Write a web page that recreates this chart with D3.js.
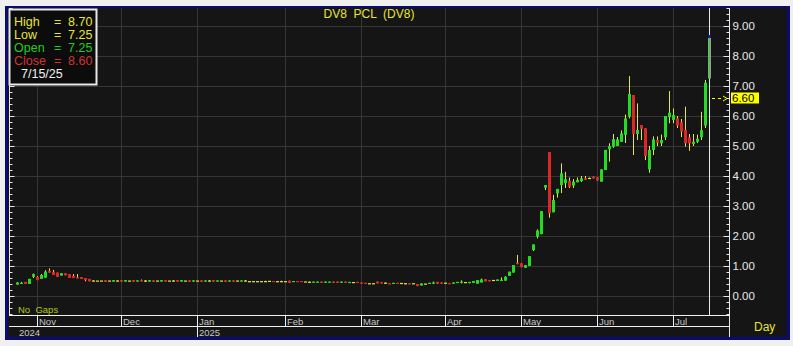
<!DOCTYPE html>
<html>
<head>
<meta charset="utf-8">
<script src="https://cdn.jsdelivr.net/npm/d3@7"></script>
<style>
  body { margin: 0; background: #f0f0f0; }
  svg { display: block; font-family: "Liberation Sans", Arial, sans-serif; }
</style>
</head>
<body>
<div id="chart"></div>
<script>
// daily bars, oldest first (late Oct 2024 .. 7/15/25)
var opens = [
  0.38, 0.43, 0.47, 0.40, 0.64, 0.64, 0.57, 0.61, 0.84, 0.81,
  0.78, 0.68, 0.76, 0.73, 0.67, 0.62, 0.63, 0.60, 0.57, 0.50,
  0.50, 0.50, 0.53, 0.50, 0.48, 0.50, 0.53, 0.48, 0.50, 0.53,
  0.48, 0.52, 0.50, 0.48, 0.52, 0.50, 0.48, 0.53, 0.50, 0.50,
  0.53, 0.48, 0.50, 0.52, 0.48, 0.50, 0.52, 0.48, 0.50, 0.53,
  0.48, 0.50, 0.52, 0.48, 0.52, 0.50, 0.48, 0.50, 0.48, 0.48,
  0.48, 0.48, 0.48, 0.49, 0.50, 0.48, 0.48, 0.48, 0.51, 0.47,
  0.50, 0.50, 0.47, 0.46, 0.45, 0.45, 0.48, 0.44, 0.45, 0.48,
  0.48, 0.44, 0.48, 0.44, 0.45, 0.47, 0.45, 0.44, 0.41, 0.41,
  0.48, 0.46, 0.43, 0.42, 0.40, 0.44, 0.42, 0.41, 0.42, 0.41,
  0.40, 0.35, 0.40, 0.40, 0.42, 0.47, 0.45, 0.43, 0.43, 0.41,
  0.43, 0.45, 0.45, 0.44, 0.44, 0.41, 0.45, 0.56, 0.53, 0.52,
  0.50, 0.52, 0.51, 0.67, 0.78, 1.11, 1.09, 0.94, 1.00, 1.53,
  1.98, 2.06, 3.61, 4.80, 2.79, 3.42, 3.70, 3.76, 3.84, 3.68,
  3.79, 3.83, 3.92, 3.92, 3.98, 3.95, 3.81, 4.20, 4.89, 4.98,
  5.00, 5.14, 5.37, 5.98, 6.70, 5.40, 5.70, 5.59, 4.22, 4.87,
  5.20, 5.09, 5.29, 5.96, 5.87, 5.92, 5.79, 5.53, 5.29, 5.07,
  5.14, 5.29, 5.68, 7.25
];
var highs = [
  0.46, 0.47, 0.47, 0.57, 0.75, 0.66, 0.73, 0.86, 0.92, 0.87,
  0.78, 0.76, 0.76, 0.73, 0.73, 0.73, 0.63, 0.60, 0.57, 0.52,
  0.50, 0.50, 0.53, 0.50, 0.53, 0.52, 0.53, 0.53, 0.50, 0.53,
  0.52, 0.55, 0.53, 0.53, 0.52, 0.50, 0.53, 0.53, 0.50, 0.53,
  0.53, 0.53, 0.50, 0.52, 0.53, 0.50, 0.52, 0.52, 0.53, 0.53,
  0.52, 0.50, 0.52, 0.52, 0.52, 0.50, 0.52, 0.53, 0.48, 0.48,
  0.48, 0.48, 0.51, 0.50, 0.50, 0.50, 0.51, 0.49, 0.51, 0.50,
  0.50, 0.50, 0.47, 0.48, 0.48, 0.48, 0.48, 0.48, 0.48, 0.48,
  0.48, 0.48, 0.48, 0.47, 0.45, 0.47, 0.45, 0.44, 0.41, 0.42,
  0.48, 0.46, 0.45, 0.42, 0.44, 0.44, 0.42, 0.43, 0.42, 0.41,
  0.40, 0.42, 0.40, 0.44, 0.48, 0.47, 0.45, 0.43, 0.43, 0.45,
  0.47, 0.52, 0.45, 0.47, 0.50, 0.53, 0.58, 0.56, 0.53, 0.52,
  0.55, 0.62, 0.66, 0.81, 1.03, 1.37, 1.09, 1.03, 1.33, 1.72,
  2.22, 2.83, 3.70, 4.80, 3.37, 3.57, 4.42, 4.14, 3.95, 3.90,
  3.95, 4.00, 4.00, 3.95, 3.98, 3.96, 4.22, 4.87, 5.09, 5.40,
  5.30, 5.52, 6.05, 7.33, 6.70, 6.42, 5.70, 5.59, 5.00, 5.32,
  5.32, 5.38, 6.00, 6.83, 6.25, 6.00, 5.90, 6.31, 5.40, 5.40,
  5.38, 6.14, 7.20, 8.70
];
var lows = [
  0.38, 0.42, 0.40, 0.40, 0.60, 0.53, 0.57, 0.61, 0.78, 0.70,
  0.64, 0.68, 0.69, 0.60, 0.60, 0.60, 0.57, 0.49, 0.49, 0.50,
  0.50, 0.50, 0.47, 0.50, 0.48, 0.50, 0.48, 0.48, 0.50, 0.48,
  0.48, 0.50, 0.47, 0.48, 0.47, 0.50, 0.48, 0.48, 0.50, 0.50,
  0.48, 0.48, 0.50, 0.47, 0.48, 0.50, 0.47, 0.48, 0.50, 0.48,
  0.48, 0.50, 0.47, 0.48, 0.48, 0.50, 0.48, 0.50, 0.48, 0.48,
  0.48, 0.48, 0.48, 0.49, 0.47, 0.48, 0.48, 0.48, 0.44, 0.47,
  0.47, 0.47, 0.47, 0.45, 0.45, 0.45, 0.44, 0.44, 0.45, 0.44,
  0.44, 0.44, 0.44, 0.44, 0.45, 0.44, 0.42, 0.41, 0.41, 0.41,
  0.42, 0.42, 0.42, 0.40, 0.40, 0.41, 0.42, 0.40, 0.40, 0.41,
  0.33, 0.35, 0.40, 0.40, 0.40, 0.41, 0.41, 0.43, 0.41, 0.41,
  0.43, 0.42, 0.45, 0.42, 0.44, 0.41, 0.45, 0.49, 0.49, 0.52,
  0.50, 0.50, 0.51, 0.67, 0.78, 1.06, 0.96, 0.94, 1.00, 1.50,
  1.92, 2.06, 3.53, 2.61, 2.79, 3.28, 3.43, 3.60, 3.60, 3.60,
  3.79, 3.80, 3.87, 3.92, 3.92, 3.85, 3.81, 4.20, 4.48, 4.94,
  5.00, 5.14, 5.10, 5.92, 4.70, 5.20, 5.20, 4.53, 4.11, 4.70,
  5.00, 5.00, 5.20, 5.76, 5.76, 5.60, 5.30, 4.98, 4.84, 5.00,
  5.10, 5.20, 5.60, 7.25
];
var closes = [
  0.45, 0.44, 0.40, 0.57, 0.73, 0.53, 0.70, 0.81, 0.78, 0.70,
  0.64, 0.76, 0.69, 0.60, 0.60, 0.60, 0.57, 0.53, 0.49, 0.50,
  0.50, 0.50, 0.47, 0.50, 0.53, 0.50, 0.48, 0.53, 0.50, 0.48,
  0.52, 0.50, 0.50, 0.53, 0.47, 0.50, 0.53, 0.48, 0.50, 0.50,
  0.48, 0.53, 0.50, 0.47, 0.52, 0.50, 0.47, 0.52, 0.50, 0.48,
  0.52, 0.50, 0.47, 0.52, 0.48, 0.50, 0.52, 0.50, 0.48, 0.48,
  0.48, 0.48, 0.48, 0.49, 0.47, 0.48, 0.48, 0.48, 0.44, 0.50,
  0.47, 0.47, 0.47, 0.46, 0.48, 0.48, 0.44, 0.48, 0.48, 0.44,
  0.44, 0.48, 0.44, 0.47, 0.45, 0.44, 0.42, 0.41, 0.41, 0.41,
  0.42, 0.42, 0.43, 0.40, 0.44, 0.41, 0.42, 0.41, 0.40, 0.41,
  0.33, 0.42, 0.40, 0.44, 0.45, 0.41, 0.41, 0.43, 0.41, 0.45,
  0.47, 0.48, 0.45, 0.47, 0.50, 0.53, 0.55, 0.49, 0.49, 0.52,
  0.55, 0.54, 0.64, 0.81, 1.03, 1.06, 0.96, 1.03, 1.33, 1.72,
  2.18, 2.83, 3.70, 2.76, 3.20, 3.57, 4.09, 3.89, 3.64, 3.81,
  3.87, 3.92, 3.87, 3.92, 3.92, 3.85, 4.22, 4.87, 5.00, 5.23,
  5.22, 5.42, 5.92, 6.73, 5.40, 5.53, 5.57, 4.67, 4.87, 5.22,
  5.11, 5.20, 6.00, 6.11, 6.03, 5.68, 5.48, 5.09, 5.09, 5.14,
  5.24, 5.53, 7.11, 8.60
];
// first bar of each month
var monthLabels = ["Nov", "Dec", "Jan", "Feb", "Mar", "Apr", "May", "Jun", "Jul"];
var monthFirstBar = [5, 26, 45, 67, 86, 107, 126, 145, 164];
var yearLabels = ["2024", "2025"];
var yearFirstBar = [null, 45];
var priceTicks = [0, 1, 2, 3, 4, 5, 6, 7, 8, 9];
var markerPrice = 6.60;

var W = 793, H = 346,
    plotL = 9, plotR = 729, plotT = 8, plotB = 315;

var svg = d3.select("#chart").append("svg")
    .attr("width", W)
    .attr("height", H);

var bars = opens.map(function(o, i) {
    return { i: i, o: o, h: highs[i], l: lows[i], c: closes[i] };
});

var x = d3.scaleLinear().domain([0, bars.length - 1]).range([17, 709]);
var y = d3.scaleLinear().domain([0, 9]).range([296, 26]);

// frame
svg.append("rect").attr("x", 5).attr("y", 6).attr("width", 785).attr("height", 334).attr("fill", "#0b0b70");
svg.append("rect").attr("x", 8).attr("y", 8).attr("width", 779).attr("height", 329).attr("fill", "#151515");

// grid
svg.append("g").selectAll("line")
    .data(priceTicks)
    .enter().append("line")
    .attr("x1", plotL).attr("x2", plotR)
    .attr("y1", function(d) { return y(d) + 0.5; })
    .attr("y2", function(d) { return y(d) + 0.5; })
    .attr("stroke", "#363636");
svg.append("g").selectAll("line")
    .data(monthFirstBar)
    .enter().append("line")
    .attr("x1", function(d) { return Math.round(x(d)) + 0.5; })
    .attr("x2", function(d) { return Math.round(x(d)) + 0.5; })
    .attr("y1", plotT).attr("y2", plotB)
    .attr("stroke", "#363636");

// cursor line on last bar
var last = bars[bars.length - 1];
svg.append("line")
    .attr("x1", Math.round(x(last.i)) + 0.5).attr("x2", Math.round(x(last.i)) + 0.5)
    .attr("y1", plotT).attr("y2", plotB)
    .attr("stroke", "#e8e8e8");

// candles
var up = "#22dd22", down = "#dd2626", wick = "#e6e636";
var candle = svg.append("g").selectAll("g")
    .data(bars.slice(0, -1))
    .enter().append("g");
candle.append("line")
    .attr("x1", function(d) { return Math.round(x(d.i)) + 0.5; })
    .attr("x2", function(d) { return Math.round(x(d.i)) + 0.5; })
    .attr("y1", function(d) { return y(d.h); })
    .attr("y2", function(d) { return y(d.l); })
    .attr("stroke", wick);
candle.append("rect")
    .attr("x", function(d) { return Math.round(x(d.i)) - 1; })
    .attr("width", 3)
    .attr("y", function(d) { return d.o == d.c ? y(d.c) - 0.5 : y(Math.max(d.o, d.c)); })
    .attr("height", function(d) { return d.o == d.c ? 1.2 : Math.max(1.2, Math.abs(y(d.o) - y(d.c))); })
    .attr("fill", function(d) { return d.c > d.o ? up : (d.c < d.o ? down : wick); });

// selected bar
var lx = Math.round(x(last.i));
svg.append("rect").attr("x", lx - 1).attr("width", 3)
    .attr("y", y(last.h)).attr("height", y(last.c) - y(last.h))
    .attr("fill", "#1a1a90");
svg.append("rect").attr("x", lx - 1).attr("width", 3)
    .attr("y", y(last.c)).attr("height", y(last.o) - y(last.c))
    .attr("fill", "#9a9a9a");
svg.append("rect").attr("x", lx).attr("width", 1)
    .attr("y", y(last.c)).attr("height", y(last.o) - y(last.c))
    .attr("fill", up);

// right price axis
var minor = d3.range(-0.6, 9.61, 0.2).map(function(d) { return +d.toFixed(1); });
svg.append("g")
    .attr("class", "axis")
    .attr("transform", "translate(" + (plotR + 0.5) + ",0)")
    .call(d3.axisLeft(y).tickValues(minor).tickSize(3).tickFormat(""));
svg.append("g")
    .attr("class", "axis")
    .attr("transform", "translate(" + (plotR + 0.5) + ",0)")
    .call(d3.axisLeft(y).tickValues(priceTicks).tickSize(6).tickFormat(""));
svg.append("g")
    .attr("class", "axis labels")
    .attr("transform", "translate(" + (plotR + 0.5) + ",0)")
    .call(d3.axisRight(y).tickValues(priceTicks).tickSize(0).tickPadding(3).tickFormat(d3.format(".2f")));
// left edge ticks
svg.append("g")
    .attr("class", "axis")
    .attr("transform", "translate(" + (plotL + 0.5) + ",0)")
    .call(d3.axisRight(y).tickValues(minor).tickSize(3).tickFormat(""));
svg.append("g")
    .attr("class", "axis")
    .attr("transform", "translate(" + (plotL + 0.5) + ",0)")
    .call(d3.axisRight(y).tickValues(priceTicks).tickSize(5).tickFormat(""));
svg.selectAll(".axis .domain").remove();
svg.selectAll(".axis line").attr("stroke", "#e8e8e8");
svg.selectAll(".labels text").attr("fill", "#e8e8e8").style("font-size", "11.5px");

svg.append("line").attr("x1", plotR + 0.5).attr("x2", plotR + 0.5).attr("y1", plotT).attr("y2", 337).attr("stroke", "#e8e8e8");
svg.append("line").attr("x1", plotL + 0.5).attr("x2", plotL + 0.5).attr("y1", plotT).attr("y2", plotB).attr("stroke", "#e8e8e8");

// marker on axis
svg.append("line")
    .attr("x1", 712).attr("x2", 723)
    .attr("y1", Math.round(y(markerPrice)) + 0.5).attr("y2", Math.round(y(markerPrice)) + 0.5)
    .attr("stroke", "#ffff00").attr("stroke-dasharray", "3,3");
svg.append("path")
    .attr("d", "M723," + (Math.round(y(markerPrice)) - 2) + " L727," + (Math.round(y(markerPrice)) + 0.5) + " L723," + (Math.round(y(markerPrice)) + 3))
    .attr("fill", "none").attr("stroke", "#ffff00");
svg.append("rect")
    .attr("x", 731).attr("y", y(markerPrice) - 5.5)
    .attr("width", 28).attr("height", 11)
    .attr("fill", "#ffff00");
svg.append("text")
    .attr("x", 732).attr("y", y(markerPrice) + 4)
    .attr("fill", "#000").style("font-size", "11.5px")
    .text(d3.format(".2f")(markerPrice));

// time axis
svg.append("line").attr("x1", plotL).attr("x2", plotR).attr("y1", plotB + 0.5).attr("y2", plotB + 0.5).attr("stroke", "#f0f0f0");
svg.append("line").attr("x1", plotL).attr("x2", plotR).attr("y1", 326.5).attr("y2", 326.5).attr("stroke", "#f0f0f0");
var mon = svg.append("g").selectAll("g")
    .data(monthFirstBar)
    .enter().append("g")
    .attr("transform", function(d) { return "translate(" + (Math.round(x(d)) + 0.5) + ",0)"; });
mon.append("line").attr("y1", plotB).attr("y2", 326).attr("stroke", "#f0f0f0");
mon.append("text")
    .attr("x", 1.5).attr("y", 325)
    .attr("fill", "#c8c8c8").style("font-size", "9.5px")
    .text(function(d, i) { return monthLabels[i]; });
var yr = svg.append("g").selectAll("g")
    .data(yearFirstBar)
    .enter().append("g")
    .attr("transform", function(d) { return "translate(" + (d == null ? 17.5 : Math.round(x(d)) + 0.5) + ",0)"; });
yr.filter(function(d) { return d != null; }).append("line").attr("y1", 326).attr("y2", 337).attr("stroke", "#f0f0f0");
yr.append("text")
    .attr("x", 1.5).attr("y", 335.5)
    .attr("fill", "#c8c8c8").style("font-size", "9.5px")
    .text(function(d, i) { return yearLabels[i]; });

// labels
svg.append("text")
    .attr("x", (plotL + plotR) / 2).attr("y", 18)
    .attr("text-anchor", "middle")
    .attr("fill", "#e6e632").style("font-size", "12px").style("white-space", "pre")
    .text("DV8  PCL  (DV8)");
svg.append("text")
    .attr("x", 754).attr("y", 331)
    .attr("fill", "#e6e632").style("font-size", "12px")
    .text("Day");
svg.append("text")
    .attr("x", 18).attr("y", 313)
    .attr("fill", "#b4c81e").style("font-size", "9.5px").style("white-space", "pre")
    .text("No  Gaps");

// data box for the selected bar
var box = svg.append("g");
box.append("rect")
    .attr("x", 9.5).attr("y", 9.5).attr("width", 87).attr("height", 75)
    .attr("fill", "#0c0c0c").attr("stroke", "#e8e8e8").attr("stroke-width", 2);
var rows = [
    { k: "High", v: last.h, col: "#e6e632" },
    { k: "Low", v: last.l, col: "#e6e632" },
    { k: "Open", v: last.o, col: "#22cc22" },
    { k: "Close", v: last.c, col: "#d23232" }
];
var row = box.selectAll(".row")
    .data(rows)
    .enter().append("g")
    .attr("class", "row")
    .attr("transform", function(d, i) { return "translate(0," + (26 + i * 13) + ")"; });
row.append("text").attr("x", 14).attr("fill", function(d) { return d.col; }).style("font-size", "12.5px").text(function(d) { return d.k; });
row.append("text").attr("x", 54).attr("fill", function(d) { return d.col; }).style("font-size", "12.5px").text("=");
row.append("text").attr("x", 68).attr("fill", function(d) { return d.col; }).style("font-size", "12.5px").text(function(d) { return d3.format(".2f")(d.v); });
box.append("text").attr("x", 21).attr("y", 78).attr("fill", "#f0f0f0").style("font-size", "12.5px").text("7/15/25");
</script>
</body>
</html>
